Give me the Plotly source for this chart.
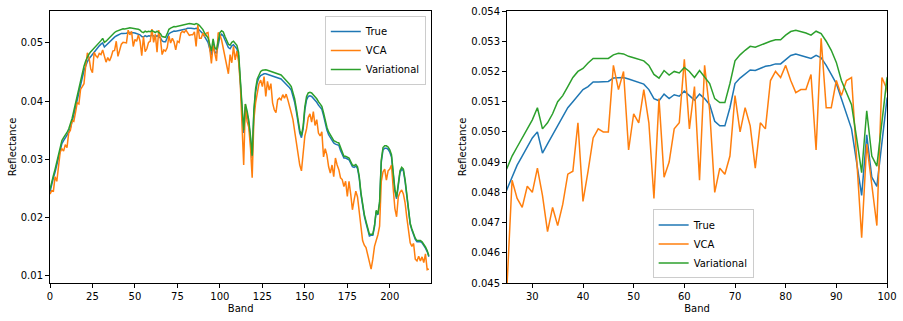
import plotly.graph_objects as go
from plotly.subplots import make_subplots

bands = list(range(224))

true_vals = [
    0.0244, 0.0258, 0.0268, 0.0278, 0.0290, 0.0302, 0.0318, 0.0327, 0.0332, 0.0336,
    0.0340, 0.0346, 0.0354, 0.0364, 0.0376, 0.0389, 0.0403, 0.0416, 0.0428, 0.0440,
    0.0452, 0.0461, 0.0468, 0.0473, 0.0477,
    0.0481, 0.0485, 0.0489, 0.0492, 0.0495, 0.0498, 0.0500, 0.0493, 0.0496, 0.0499,
    0.0502, 0.0505, 0.0508, 0.0510, 0.0512, 0.0514, 0.0515, 0.05165, 0.05165, 0.05165,
    0.05167, 0.05178, 0.0518, 0.0518, 0.05175, 0.0517, 0.05163, 0.05158, 0.0514, 0.0511,
    0.05103, 0.05125, 0.0511, 0.05123, 0.05118, 0.05135, 0.0512, 0.05105, 0.05125, 0.0511,
    0.0509, 0.05035, 0.0502, 0.0502, 0.0508, 0.0516, 0.05178, 0.05193, 0.05205, 0.05203,
    0.0521, 0.05217, 0.0522, 0.05225, 0.05225, 0.0524, 0.05253, 0.05258, 0.05252, 0.05248,
    0.05243, 0.05253, 0.05245, 0.0522, 0.0519, 0.0516, 0.0511, 0.0506, 0.0501, 0.0490,
    0.0479, 0.0499, 0.0485, 0.0482, 0.0496, 0.0511,
    0.0515, 0.0512, 0.0505, 0.0498, 0.0492, 0.0490, 0.0495, 0.0497, 0.0494, 0.0490,
    0.0478, 0.0440, 0.0388, 0.0345, 0.0390, 0.0378, 0.0362, 0.0335, 0.0302, 0.0380,
    0.0415, 0.0432, 0.0440, 0.0444, 0.0446, 0.0447, 0.0447, 0.0446, 0.0445, 0.0444,
    0.0444, 0.0443, 0.0442, 0.0441, 0.0440, 0.0438, 0.0435, 0.0432, 0.0430, 0.0427,
    0.0423, 0.0419, 0.0410, 0.0398, 0.0382, 0.0363, 0.0345, 0.0337, 0.0352, 0.0385,
    0.0402, 0.0408, 0.0409, 0.0408, 0.0405, 0.0402, 0.0398, 0.0393, 0.0389, 0.0386,
    0.0375, 0.0362, 0.0350, 0.0342, 0.0337, 0.0333, 0.0328, 0.0326, 0.0325, 0.0324,
    0.0315, 0.0308, 0.0302, 0.0302, 0.0301, 0.0299, 0.0293, 0.0287, 0.0286, 0.0288,
    0.0284, 0.0268, 0.0240, 0.0218, 0.0202, 0.0190, 0.0178, 0.0168, 0.0169, 0.0169,
    0.0184, 0.0210, 0.0204, 0.0224, 0.0295, 0.0316, 0.0319, 0.0319, 0.0317, 0.0312,
    0.0304, 0.0278, 0.0245, 0.0232, 0.0260, 0.0277, 0.0283, 0.0280, 0.0262, 0.0236,
    0.0205, 0.0188, 0.0178, 0.0168, 0.0162, 0.0158, 0.0158, 0.0158, 0.0156, 0.0152,
    0.0147, 0.0141, 0.0132,
]

vca_vals = [
    0.0240, 0.0246, 0.0245, 0.0270, 0.0262, 0.0290, 0.0312, 0.0318, 0.0314, 0.0325,
    0.0320, 0.0345, 0.0350, 0.0366, 0.0365, 0.0380, 0.0397, 0.0395, 0.0420, 0.0425,
    0.0430, 0.0460, 0.0483, 0.0474, 0.0455,
    0.0449, 0.0484, 0.0478, 0.0475, 0.0482, 0.0480, 0.0488, 0.0479, 0.0467, 0.0475,
    0.0469, 0.0476, 0.0486, 0.0487, 0.0503, 0.0477, 0.0487, 0.0498, 0.0501, 0.0500,
    0.0500, 0.0522, 0.0514, 0.0520, 0.0494, 0.0506, 0.0503, 0.0514, 0.0503, 0.0478,
    0.0511, 0.0485, 0.0490, 0.0501, 0.0503, 0.0524, 0.0501, 0.0515, 0.0484, 0.0522,
    0.0507, 0.0480, 0.0488, 0.0486, 0.0492, 0.0512, 0.0500, 0.0508, 0.0502, 0.0488,
    0.0503, 0.0501, 0.0517, 0.0520, 0.0518, 0.0522, 0.0517, 0.0513, 0.0514, 0.0514,
    0.0519, 0.0494, 0.0531, 0.0508, 0.0508, 0.0517, 0.0512, 0.0517, 0.0518, 0.0490,
    0.0465, 0.0496, 0.0483, 0.0469, 0.0518, 0.0514,
    0.0505, 0.0490, 0.0478, 0.0465, 0.0447, 0.0480, 0.0466, 0.0494, 0.0471, 0.0486,
    0.0468, 0.0430, 0.0360, 0.0290, 0.0395, 0.0365, 0.0355, 0.0320, 0.0268, 0.0368,
    0.0397, 0.0415, 0.0430, 0.0436, 0.0425, 0.0442, 0.0408, 0.0434, 0.0419, 0.0430,
    0.0397, 0.0385, 0.0380, 0.0402, 0.0405, 0.0402, 0.0411, 0.0405, 0.0412, 0.0402,
    0.0393, 0.0380, 0.0368, 0.0348, 0.0333, 0.0310, 0.0290, 0.0280, 0.0318, 0.0340,
    0.0352, 0.0372, 0.0378, 0.0364, 0.0382, 0.0358, 0.0368, 0.0345, 0.0340, 0.0347,
    0.0304, 0.0318, 0.0307, 0.0287, 0.0276, 0.0290, 0.0270, 0.0302, 0.0290, 0.0282,
    0.0268, 0.0265, 0.0253, 0.0262, 0.0236, 0.0262, 0.0240, 0.0213, 0.0230, 0.0245,
    0.0235, 0.0205, 0.0185, 0.0160, 0.0152, 0.0148, 0.0135, 0.0120, 0.0111, 0.0128,
    0.0150, 0.0160, 0.0170, 0.0185, 0.0262, 0.0278, 0.0283, 0.0264, 0.0280, 0.0283,
    0.0290, 0.0250, 0.0215, 0.0201, 0.0235, 0.0243, 0.0247, 0.0240, 0.0225, 0.0200,
    0.0175, 0.0156, 0.0150, 0.0155, 0.0128, 0.0125, 0.0133, 0.0125, 0.0132, 0.0122,
    0.0137, 0.0110, 0.0111,
]

variational_vals = [
    0.0248, 0.0262, 0.0272, 0.0283, 0.0295, 0.0307, 0.0323, 0.0332, 0.0337, 0.0341,
    0.0346, 0.0352, 0.0360, 0.0370, 0.0383, 0.0396, 0.0410, 0.0423, 0.0436, 0.0448,
    0.0460, 0.0469, 0.0476, 0.0481, 0.0485,
    0.0488, 0.0492, 0.0495, 0.0498, 0.0501, 0.0504, 0.0508, 0.0501, 0.0503, 0.0506,
    0.0510, 0.0512, 0.0515, 0.0518, 0.0520, 0.0521, 0.05228, 0.05243, 0.05243, 0.05242,
    0.05243, 0.05255, 0.0526, 0.05258, 0.0525, 0.05245, 0.0524, 0.05235, 0.0522, 0.0519,
    0.05178, 0.05203, 0.05188, 0.0520, 0.05195, 0.05213, 0.0520, 0.0518, 0.05203, 0.0518,
    0.0516, 0.0511, 0.05097, 0.05097, 0.0516, 0.05235, 0.05255, 0.0527, 0.05283, 0.0528,
    0.05287, 0.05295, 0.0530, 0.05305, 0.05305, 0.0532, 0.05332, 0.05336, 0.05332, 0.05327,
    0.0532, 0.05333, 0.05325, 0.0530, 0.0527, 0.0523, 0.0517, 0.0513, 0.0509, 0.0498,
    0.04865, 0.0507, 0.0492, 0.04887, 0.0503, 0.05178,
    0.0521, 0.0519, 0.0511, 0.0504, 0.0498, 0.0496, 0.0501, 0.0503, 0.0500, 0.0496,
    0.0484, 0.0446, 0.0393, 0.0350, 0.0395, 0.0383, 0.0367, 0.0340, 0.0306, 0.0385,
    0.0421, 0.0438, 0.0446, 0.0451, 0.0453, 0.0454, 0.0454, 0.0453, 0.0452, 0.0451,
    0.0451, 0.0450, 0.0449, 0.0448, 0.0447, 0.0445, 0.0442, 0.0439, 0.0436, 0.0433,
    0.0429, 0.0425, 0.0416, 0.0404, 0.0387, 0.0368, 0.0350, 0.0341, 0.0357, 0.0390,
    0.0408, 0.0414, 0.0415, 0.0414, 0.0411, 0.0408, 0.0404, 0.0399, 0.0395, 0.0391,
    0.0380, 0.0367, 0.0355, 0.0347, 0.0341, 0.0337, 0.0332, 0.0330, 0.0329, 0.0328,
    0.0319, 0.0312, 0.0305, 0.0305, 0.0304, 0.0302, 0.0296, 0.0290, 0.0289, 0.0291,
    0.0287, 0.0271, 0.0243, 0.0221, 0.0205, 0.0193, 0.0180, 0.0171, 0.0171, 0.0171,
    0.0186, 0.0212, 0.0206, 0.0227, 0.0299, 0.0320, 0.0323, 0.0323, 0.0321, 0.0316,
    0.0308, 0.0282, 0.0248, 0.0235, 0.0263, 0.0280, 0.0286, 0.0283, 0.0265, 0.0238,
    0.0207, 0.0190, 0.0180, 0.0170, 0.0164, 0.0160, 0.0160, 0.0160, 0.0158, 0.0154,
    0.0149, 0.0143, 0.0134,
]

assert len(true_vals) == 224, len(true_vals)
assert len(vca_vals) == 224, len(vca_vals)
assert len(variational_vals) == 224, len(variational_vals)

series = [("True", true_vals, "#1f77b4"),
          ("VCA", vca_vals, "#ff7f0e"),
          ("Variational", variational_vals, "#2ca02c")]

left_xticks = [0, 25, 50, 75, 100, 125, 150, 175, 200]
left_yticks = [0.01, 0.02, 0.03, 0.04, 0.05]
right_xticks = [30, 40, 50, 60, 70, 80, 90, 100]
right_yticks = [0.045, 0.046, 0.047, 0.048, 0.049, 0.050, 0.051, 0.052, 0.053, 0.054]

fig = make_subplots(rows=1, cols=2, horizontal_spacing=0.09)

for col, leg in [(1, "legend"), (2, "legend2")]:
    for name, vals, color in series:
        fig.add_trace(go.Scatter(x=bands, y=vals, mode="lines", name=name,
                                 line=dict(color=color, width=1.5),
                                 legend=leg, showlegend=True),
                      row=1, col=col)

axis_common = dict(showline=True, mirror=True, linecolor="black", linewidth=1,
                   ticks="outside", ticklen=4, tickwidth=1, tickcolor="black",
                   showgrid=False, zeroline=False, automargin=False,
                   tickfont=dict(size=10, color="black"),
                   title_font=dict(size=10, color="black"))

fig.update_xaxes(**axis_common)
fig.update_yaxes(**axis_common)

fig.update_layout(
    width=903, height=321,
    margin=dict(l=50, r=16, t=11, b=38),
    plot_bgcolor="white", paper_bgcolor="white",
    font=dict(family="DejaVu Sans", size=10, color="black"),
    xaxis=dict(domain=[0, 0.4557], range=[0, 224.5], tickvals=left_xticks,
               title=dict(text="Band", standoff=3)),
    yaxis=dict(range=[0.0087, 0.0555], tickvals=left_yticks, tickformat=".2f",
               title=dict(text="Reflectance", standoff=2)),
    xaxis2=dict(domain=[0.546, 1], range=[25, 100], tickvals=right_xticks,
                title=dict(text="Band", standoff=3)),
    yaxis2=dict(range=[0.045, 0.054], tickvals=right_yticks, tickformat=".3f",
                title=dict(text="Reflectance", standoff=2)),
    legend=dict(x=0.449, y=0.982, xanchor="right", yanchor="top",
                bgcolor="rgba(255,255,255,0.8)", bordercolor="#cccccc", borderwidth=1,
                font=dict(size=10), itemwidth=30, tracegroupgap=0),
    legend2=dict(x=0.72, y=0.017, xanchor="left", yanchor="bottom",
                 bgcolor="rgba(255,255,255,0.8)", bordercolor="#cccccc", borderwidth=1,
                 font=dict(size=10), itemwidth=30, tracegroupgap=0),
)

fig.write_html("out.html", config={"displayModeBar": False},
               post_script="document.body.style.margin='0px';document.body.style.overflow='hidden';")
